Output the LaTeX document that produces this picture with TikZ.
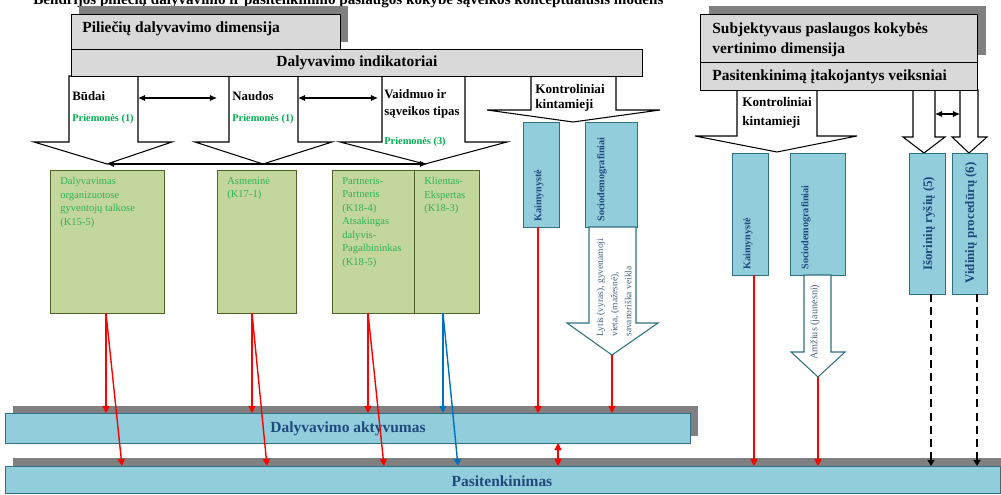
\documentclass[tikz,border=0pt]{standalone}
\usepackage{fontspec}
\setmainfont{Liberation Serif}
\usetikzlibrary{arrows.meta}

\definecolor{boxgray}{HTML}{D9D9D9}
\definecolor{shadowgray}{HTML}{808080}
\definecolor{olivefill}{HTML}{C3D69B}
\definecolor{olivedraw}{HTML}{4F6228}
\definecolor{priemgreen}{HTML}{00B050}
\definecolor{boxgreen}{HTML}{2EB35A}
\definecolor{tealfill}{HTML}{92CDDC}
\definecolor{tealdraw}{HTML}{2F7180}
\definecolor{navytext}{HTML}{1F497D}
\definecolor{slatetext}{HTML}{4A6282}
\definecolor{linkred}{HTML}{FF0000}
\definecolor{linkblue}{HTML}{0070C0}

\begin{document}
\begin{tikzpicture}[x=0.02cm, y=-0.02cm,
    headbox/.style={draw=black, fill=boxgray, line width=0.6pt, inner sep=0pt, anchor=north west},
    greenbox/.style={draw=olivedraw, fill=olivefill, line width=0.6pt, inner sep=0pt, anchor=north west, minimum height=2.86cm},
    tealbox/.style={draw=tealdraw, fill=tealfill, line width=0.6pt, inner sep=0pt, anchor=north west},
    headtext/.style={font=\fontsize{8.8}{11.4}\selectfont\bfseries, inner sep=0pt, align=left},
    smalltext/.style={font=\fontsize{7.3}{9.7}\selectfont\bfseries, inner sep=0pt, align=left, anchor=west},
    meanstext/.style={font=\fontsize{5.9}{7}\selectfont\bfseries, text=priemgreen, inner sep=0pt, anchor=west},
    boxtext/.style={font=\fontsize{6}{7.7}\selectfont, text=boxgreen, inner sep=0pt, align=left, anchor=north west},
    rottext/.style={font=\fontsize{5.8}{7}\selectfont\bfseries, text=navytext, inner sep=0pt, rotate=90, anchor=west},
    slanttext/.style={font=\fontsize{5.4}{8}\selectfont, text=slatetext, inner sep=0pt, rotate=90, anchor=west, align=left},
    blockarrow/.style={draw=black, fill=white, line width=0.6pt},
    tealarrow/.style={draw=tealdraw, fill=white, line width=0.6pt},
    redlink/.style={draw=linkred, line width=0.8pt, -{Triangle[length=4pt,width=4pt]}},
    bluelink/.style={draw=linkblue, line width=0.8pt, -{Triangle[length=4pt,width=4pt]}},
    dashlink/.style={draw=black, line width=1.3pt, dash pattern=on 4.5pt off 3pt, -{Triangle[length=3.5pt,width=4pt]}},
    twoway/.style={draw=black, line width=0.6pt, {Latex[length=4pt,width=3.5pt]}-{Latex[length=4pt,width=3.5pt]}}
  ]

    % Fix the picture size to the reference
    \useasboundingbox (0,0) rectangle (1001,494);

    % Title, cut at the top edge
    \node[headtext, font=\fontsize{8.6}{11}\selectfont\bfseries, anchor=base west] (title) at (33,4.5) {Bendrijos piliečių dalyvavimo ir pasitenkinimo paslaugos kokybe sąveikos konceptualusis modelis};

    % Shadows behind the header boxes and the bars
    \fill[shadowgray] (79,6) rectangle (348,42);       % Behind dimension box
    \fill[shadowgray] (709,6) rectangle (986,55);      % Behind subjective box
    \fill[shadowgray] (13,406) rectangle (698,436);    % Behind activity bar
    \fill[shadowgray] (13,458) rectangle (1001,494);   % Behind satisfaction bar

    % Block arrows of the participation indicators
    \draw[blockarrow] (69,76) -- (69,142) -- (34,142) -- (107,164) -- (172,142) -- (138,142) -- (138,76) -- cycle;     % Budai
    \draw[blockarrow] (229,76) -- (229,142) -- (195,142) -- (263,164) -- (332,142) -- (298,142) -- (298,76) -- cycle;  % Naudos
    \draw[blockarrow] (382,76) -- (382,142) -- (340,142) -- (425,164) -- (507,142) -- (465,142) -- (465,76) -- cycle;  % Vaidmuo
    \draw[blockarrow] (531,76) -- (531,110) -- (487,110) -- (573,122) -- (660,110) -- (616,110) -- (616,76) -- cycle;  % Control (left)

    % Block arrows of the satisfaction factors
    \draw[blockarrow] (737,90) -- (737,136) -- (695,136) -- (777,152) -- (857,136) -- (817,136) -- (817,90) -- cycle;  % Control (right)
    \draw[blockarrow] (913,90) -- (913,137) -- (903,137) -- (924,153) -- (945,137) -- (935,137) -- (935,90) -- cycle;  % Isoriniu
    \draw[blockarrow] (960,90) -- (960,137) -- (952,137) -- (969,153) -- (987,137) -- (978,137) -- (978,90) -- cycle;  % Vidiniu

    % Header boxes
    \node[headbox, minimum width=5.38cm, minimum height=0.70cm] (pil) at (71,14) {};
    \node[headtext, anchor=west] (piltxt) at (82,29) {Piliečių dalyvavimo dimensija};
    \node[headbox, minimum width=11.42cm, minimum height=0.54cm] (ind) at (71,49) {};
    \node[headtext] (indtxt) at (ind.center) {Dalyvavimo indikatoriai};
    \node[headbox, minimum width=5.54cm, minimum height=0.96cm] (subj) at (700,14) {};
    \node[headtext, anchor=west] (subjtxt) at (712,40) {Subjektyvaus paslaugos kokybės\\vertinimo dimensija};
    \node[headbox, minimum width=5.54cm, minimum height=0.56cm] (veik) at (700,62) {};
    \node[headtext, anchor=west] (veiktxt) at (712,77) {Pasitenkinimą įtakojantys veiksniai};

    % Labels inside the block arrows
    \node[smalltext] (budai) at (72,96) {Būdai};
    \node[meanstext] (budaimeans) at (72,119) {Priemonės (1)};
    \node[smalltext] (naudos) at (232,96) {Naudos};
    \node[meanstext] (naudosmeans) at (232,119) {Priemonės (1)};
    \node[smalltext] (vaidmuo) at (384,104) {Vaidmuo ir\\sąveikos tipas};
    \node[meanstext] (vaidmeans) at (384,142) {Priemonės (3)};
    \node[smalltext, font=\fontsize{7.5}{8.5}\selectfont\bfseries] (ctrlleft) at (535,98) {Kontroliniai\\kintamieji};
    \node[smalltext, font=\fontsize{7.5}{10.8}\selectfont\bfseries] (ctrlright) at (742,113) {Kontroliniai\\kintamieji};

    % Links between the indicator arrows
    \coordinate (budaiR) at (138,98);     % Right side of Budai shaft
    \coordinate (naudosL) at (217,98);    % Before Naudos shaft
    \coordinate (naudosR) at (298,98);    % Right side of Naudos shaft
    \coordinate (vaidL) at (378,98);      % Before Vaidmuo shaft
    \coordinate (tipB) at (107,164);      % Tip of Budai arrow
    \coordinate (tipV) at (427,164);      % Tip of Vaidmuo arrow
    \coordinate (isorR) at (935,114);     % Right side of Isoriniu shaft
    \coordinate (vidL) at (960,114);      % Left side of Vidiniu shaft
    \draw[twoway] (budaiR) -- (naudosL);
    \draw[twoway] (naudosR) -- (vaidL);
    \draw[twoway] (tipB) -- (tipV);
    \draw[twoway] (isorR) -- (vidL);

    % Green indicator boxes
    \node[greenbox, minimum width=2.28cm] (talkos) at (50,170) {};
    \node[greenbox, minimum width=1.58cm] (asmen) at (217,170) {};
    \node[greenbox, minimum width=1.64cm] (partner) at (332,170) {};
    \node[greenbox, minimum width=1.30cm] (klient) at (414,170) {};
    \node[boxtext] (talkostxt) at (60,177) {Dalyvavimas\\organizuotose\\gyventojų talkose\\(K15-5)};
    \node[boxtext] (asmentxt) at (227,177) {Asmeninė\\(K17-1)};
    \node[boxtext] (partnertxt) at (342,177) {Partneris-\\Partneris\\(K18-4)\\Atsakingas\\dalyvis-\\Pagalbininkas\\(K18-5)};
    \node[boxtext] (klienttxt) at (424,177) {Klientas-\\Ekspertas\\(K18-3)};

    % Teal control variable boxes
    \node[tealbox, minimum width=0.72cm, minimum height=2.10cm] (kaim1) at (523,122) {};
    \node[tealbox, minimum width=1.04cm, minimum height=2.10cm] (soc1) at (585,122) {};
    \node[tealbox, minimum width=0.72cm, minimum height=2.44cm] (kaim2) at (732,153) {};
    \node[tealbox, minimum width=1.10cm, minimum height=2.44cm] (soc2) at (790,153) {};
    \node[tealbox, minimum width=0.72cm, minimum height=2.82cm] (isor) at (909,153) {};
    \node[tealbox, minimum width=0.70cm, minimum height=2.82cm] (vid) at (952,153) {};
    \node[rottext] (kaim1txt) at (539,222) {Kaimynystė};
    \node[rottext] (soc1txt) at (602,222) {Sociodemografiniai};
    \node[rottext] (kaim2txt) at (748,270) {Kaimynystė};
    \node[rottext] (soc2txt) at (806,270) {Sociodemografiniai};
    \node[rottext, font=\fontsize{7.4}{9}\selectfont\bfseries] (isortxt) at (929,271) {Išorinių ryšių (5)};
    \node[rottext, font=\fontsize{7.4}{9}\selectfont\bfseries] (vidtxt) at (971,284) {Vidinių procedūrų (6)};

    % Sociodemographic block arrows
    \draw[tealarrow] (589,227) -- (589,323) -- (567,323) -- (612,355) -- (658,323) -- (636,323) -- (636,227) -- cycle;
    \draw[tealarrow] (804,275) -- (804,352) -- (791,352) -- (818,377) -- (845,352) -- (831,352) -- (831,275) -- cycle;
    \node[slanttext] (lytis) at (614,337) {Lytis (vyras), gyvenamoji\\vieta, (mažesnė),\\savanoriška veikla};
    \node[slanttext, font=\fontsize{5.8}{8}\selectfont] (amzius) at (815,360) {Amžius (jaunesni)};

    % Result bars
    \node[tealbox, minimum width=13.70cm, minimum height=0.60cm] (akt) at (5,413) {};
    \node[headtext, text=navytext] (akttxt) at (348,429) {Dalyvavimo aktyvumas};
    \node[tealbox, minimum width=19.90cm, minimum height=0.54cm] (pas) at (5,466) {};
    \node[headtext, text=navytext] (pastxt) at (502,481) {Pasitenkinimas};

    % Start points of the effect lines
    \coordinate (talkosOut) at (106,313);
    \coordinate (asmenOut) at (252,313);
    \coordinate (partnerOut) at (368,313);
    \coordinate (klientOut) at (443,313);
    \coordinate (kaim1Out) at (538,227);
    \coordinate (soc1Out) at (612,355);
    \coordinate (kaim2Out) at (754,275);
    \coordinate (soc2Out) at (818,377);
    \coordinate (isorOut) at (931,294);
    \coordinate (vidOut) at (977,294);
    \coordinate (aktpas) at (558,443);

    % End points on the satisfaction bar
    \coordinate (talkosIn) at (122,466);
    \coordinate (asmenIn) at (267,466);
    \coordinate (partnerIn) at (384,466);
    \coordinate (klientIn) at (458,466);

    % Effects on participation activity
    \draw[redlink] (talkosOut) -- (talkosOut |- akt.north);
    \draw[redlink] (asmenOut) -- (asmenOut |- akt.north);
    \draw[redlink] (partnerOut) -- (partnerOut |- akt.north);
    \draw[bluelink] (klientOut) -- (klientOut |- akt.north);
    \draw[redlink] (kaim1Out) -- (kaim1Out |- akt.north);
    \draw[redlink] (soc1Out) -- (soc1Out |- akt.north);

    % Effects on satisfaction
    \draw[redlink] (talkosOut) -- (talkosIn);
    \draw[redlink] (asmenOut) -- (asmenIn);
    \draw[redlink] (partnerOut) -- (partnerIn);
    \draw[bluelink] (klientOut) -- (klientIn);
    \draw[redlink] (kaim2Out) -- (kaim2Out |- pas.north);
    \draw[redlink] (soc2Out) -- (soc2Out |- pas.north);
    \draw[dashlink] (isorOut) -- (isorOut |- pas.north);
    \draw[dashlink] (vidOut) -- (vidOut |- pas.north);

    % Two-way link between the bars
    \draw[redlink, {Triangle[length=4pt,width=4pt]}-{Triangle[length=4pt,width=4pt]}] (aktpas) -- (aktpas |- pas.north);

\end{tikzpicture}
\end{document}
